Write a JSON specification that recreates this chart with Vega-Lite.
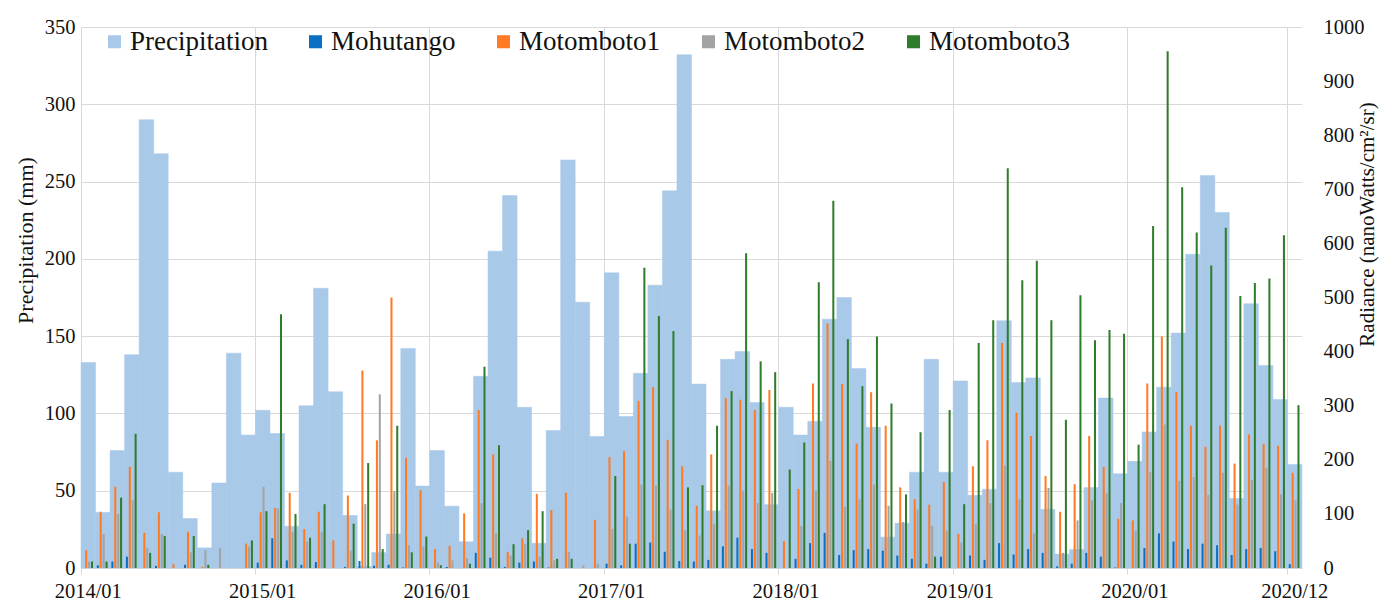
{
  "$schema": "https://vega.github.io/schema/vega-lite/v6.json",
  "width": 1221,
  "height": 541,
  "autosize": "none",
  "padding": {"left": 81, "top": 27, "right": 87, "bottom": 36},
  "background": "white",
  "config": {
    "view": {"stroke": null},
    "font": "Liberation Serif",
    "axis": {"labelFont": "Liberation Serif", "titleFont": "Liberation Serif"},
    "legend": {"labelFont": "Liberation Serif", "titleFont": "Liberation Serif"}
  },
  "data": {"values": [
    {"m":"2014/01","Precipitation":133,"Mohutango":0,"Motomboto1":33,"Motomboto2":12,"Motomboto3":12},
    {"m":"2014/02","Precipitation":36,"Mohutango":5,"Motomboto1":104,"Motomboto2":63,"Motomboto3":12},
    {"m":"2014/03","Precipitation":76,"Mohutango":12,"Motomboto1":150,"Motomboto2":100,"Motomboto3":130},
    {"m":"2014/04","Precipitation":138,"Mohutango":21,"Motomboto1":187,"Motomboto2":125,"Motomboto3":248},
    {"m":"2014/05","Precipitation":290,"Mohutango":0,"Motomboto1":65,"Motomboto2":37,"Motomboto3":28},
    {"m":"2014/06","Precipitation":268,"Mohutango":4,"Motomboto1":103,"Motomboto2":63,"Motomboto3":59},
    {"m":"2014/07","Precipitation":62,"Mohutango":0,"Motomboto1":7,"Motomboto2":0,"Motomboto3":0},
    {"m":"2014/08","Precipitation":32,"Mohutango":6,"Motomboto1":67,"Motomboto2":29,"Motomboto3":59},
    {"m":"2014/09","Precipitation":13,"Mohutango":0,"Motomboto1":2,"Motomboto2":33,"Motomboto3":6},
    {"m":"2014/10","Precipitation":55,"Mohutango":0,"Motomboto1":0,"Motomboto2":37,"Motomboto3":0},
    {"m":"2014/11","Precipitation":139,"Mohutango":0,"Motomboto1":0,"Motomboto2":0,"Motomboto3":0},
    {"m":"2014/12","Precipitation":86,"Mohutango":0,"Motomboto1":45,"Motomboto2":40,"Motomboto3":51},
    {"m":"2015/01","Precipitation":102,"Mohutango":10,"Motomboto1":103,"Motomboto2":150,"Motomboto3":105},
    {"m":"2015/02","Precipitation":87,"Mohutango":55,"Motomboto1":111,"Motomboto2":110,"Motomboto3":469},
    {"m":"2015/03","Precipitation":27,"Mohutango":14,"Motomboto1":139,"Motomboto2":67,"Motomboto3":100},
    {"m":"2015/04","Precipitation":105,"Mohutango":6,"Motomboto1":72,"Motomboto2":49,"Motomboto3":56},
    {"m":"2015/05","Precipitation":181,"Mohutango":11,"Motomboto1":104,"Motomboto2":67,"Motomboto3":118},
    {"m":"2015/06","Precipitation":114,"Mohutango":0,"Motomboto1":51,"Motomboto2":0,"Motomboto3":0},
    {"m":"2015/07","Precipitation":34,"Mohutango":2,"Motomboto1":134,"Motomboto2":32,"Motomboto3":82},
    {"m":"2015/08","Precipitation":1,"Mohutango":13,"Motomboto1":365,"Motomboto2":118,"Motomboto3":194},
    {"m":"2015/09","Precipitation":10,"Mohutango":4,"Motomboto1":236,"Motomboto2":321,"Motomboto3":35},
    {"m":"2015/10","Precipitation":22,"Mohutango":6,"Motomboto1":500,"Motomboto2":142,"Motomboto3":263},
    {"m":"2015/11","Precipitation":142,"Mohutango":1,"Motomboto1":204,"Motomboto2":42,"Motomboto3":29},
    {"m":"2015/12","Precipitation":53,"Mohutango":0,"Motomboto1":144,"Motomboto2":40,"Motomboto3":58},
    {"m":"2016/01","Precipitation":76,"Mohutango":0,"Motomboto1":35,"Motomboto2":10,"Motomboto3":5},
    {"m":"2016/02","Precipitation":40,"Mohutango":2,"Motomboto1":41,"Motomboto2":14,"Motomboto3":0},
    {"m":"2016/03","Precipitation":17,"Mohutango":0,"Motomboto1":101,"Motomboto2":18,"Motomboto3":8},
    {"m":"2016/04","Precipitation":124,"Mohutango":28,"Motomboto1":292,"Motomboto2":120,"Motomboto3":372},
    {"m":"2016/05","Precipitation":205,"Mohutango":19,"Motomboto1":210,"Motomboto2":64,"Motomboto3":227},
    {"m":"2016/06","Precipitation":241,"Mohutango":2,"Motomboto1":30,"Motomboto2":23,"Motomboto3":44},
    {"m":"2016/07","Precipitation":104,"Mohutango":10,"Motomboto1":55,"Motomboto2":44,"Motomboto3":70},
    {"m":"2016/08","Precipitation":16,"Mohutango":12,"Motomboto1":137,"Motomboto2":21,"Motomboto3":105},
    {"m":"2016/09","Precipitation":89,"Mohutango":1,"Motomboto1":107,"Motomboto2":14,"Motomboto3":17},
    {"m":"2016/10","Precipitation":264,"Mohutango":0,"Motomboto1":139,"Motomboto2":30,"Motomboto3":17},
    {"m":"2016/11","Precipitation":172,"Mohutango":0,"Motomboto1":0,"Motomboto2":5,"Motomboto3":0},
    {"m":"2016/12","Precipitation":85,"Mohutango":0,"Motomboto1":89,"Motomboto2":8,"Motomboto3":0},
    {"m":"2017/01","Precipitation":191,"Mohutango":8,"Motomboto1":205,"Motomboto2":72,"Motomboto3":170},
    {"m":"2017/02","Precipitation":98,"Mohutango":5,"Motomboto1":216,"Motomboto2":95,"Motomboto3":45},
    {"m":"2017/03","Precipitation":126,"Mohutango":45,"Motomboto1":309,"Motomboto2":154,"Motomboto3":555},
    {"m":"2017/04","Precipitation":183,"Mohutango":47,"Motomboto1":334,"Motomboto2":152,"Motomboto3":466},
    {"m":"2017/05","Precipitation":244,"Mohutango":30,"Motomboto1":237,"Motomboto2":108,"Motomboto3":438},
    {"m":"2017/06","Precipitation":332,"Mohutango":13,"Motomboto1":188,"Motomboto2":70,"Motomboto3":149},
    {"m":"2017/07","Precipitation":119,"Mohutango":12,"Motomboto1":115,"Motomboto2":60,"Motomboto3":153},
    {"m":"2017/08","Precipitation":37,"Mohutango":15,"Motomboto1":210,"Motomboto2":81,"Motomboto3":263},
    {"m":"2017/09","Precipitation":135,"Mohutango":40,"Motomboto1":314,"Motomboto2":152,"Motomboto3":327},
    {"m":"2017/10","Precipitation":140,"Mohutango":56,"Motomboto1":311,"Motomboto2":143,"Motomboto3":582},
    {"m":"2017/11","Precipitation":107,"Mohutango":35,"Motomboto1":292,"Motomboto2":120,"Motomboto3":382},
    {"m":"2017/12","Precipitation":41,"Mohutango":28,"Motomboto1":329,"Motomboto2":139,"Motomboto3":362},
    {"m":"2018/01","Precipitation":104,"Mohutango":0,"Motomboto1":50,"Motomboto2":0,"Motomboto3":182},
    {"m":"2018/02","Precipitation":86,"Mohutango":17,"Motomboto1":146,"Motomboto2":78,"Motomboto3":232},
    {"m":"2018/03","Precipitation":95,"Mohutango":46,"Motomboto1":341,"Motomboto2":143,"Motomboto3":528},
    {"m":"2018/04","Precipitation":161,"Mohutango":65,"Motomboto1":452,"Motomboto2":198,"Motomboto3":679},
    {"m":"2018/05","Precipitation":175,"Mohutango":24,"Motomboto1":340,"Motomboto2":113,"Motomboto3":423},
    {"m":"2018/06","Precipitation":129,"Mohutango":33,"Motomboto1":230,"Motomboto2":127,"Motomboto3":336},
    {"m":"2018/07","Precipitation":91,"Mohutango":35,"Motomboto1":325,"Motomboto2":154,"Motomboto3":428},
    {"m":"2018/08","Precipitation":20,"Mohutango":32,"Motomboto1":263,"Motomboto2":115,"Motomboto3":304},
    {"m":"2018/09","Precipitation":29,"Mohutango":23,"Motomboto1":149,"Motomboto2":85,"Motomboto3":136},
    {"m":"2018/10","Precipitation":62,"Mohutango":17,"Motomboto1":127,"Motomboto2":108,"Motomboto3":251},
    {"m":"2018/11","Precipitation":135,"Mohutango":8,"Motomboto1":117,"Motomboto2":78,"Motomboto3":21},
    {"m":"2018/12","Precipitation":62,"Mohutango":21,"Motomboto1":159,"Motomboto2":69,"Motomboto3":292},
    {"m":"2019/01","Precipitation":121,"Mohutango":0,"Motomboto1":63,"Motomboto2":47,"Motomboto3":118},
    {"m":"2019/02","Precipitation":47,"Mohutango":23,"Motomboto1":188,"Motomboto2":81,"Motomboto3":416},
    {"m":"2019/03","Precipitation":51,"Mohutango":15,"Motomboto1":236,"Motomboto2":120,"Motomboto3":458},
    {"m":"2019/04","Precipitation":160,"Mohutango":46,"Motomboto1":416,"Motomboto2":189,"Motomboto3":739},
    {"m":"2019/05","Precipitation":120,"Mohutango":25,"Motomboto1":287,"Motomboto2":127,"Motomboto3":532},
    {"m":"2019/06","Precipitation":123,"Mohutango":35,"Motomboto1":244,"Motomboto2":64,"Motomboto3":568},
    {"m":"2019/07","Precipitation":38,"Mohutango":28,"Motomboto1":170,"Motomboto2":148,"Motomboto3":458},
    {"m":"2019/08","Precipitation":9,"Mohutango":3,"Motomboto1":104,"Motomboto2":28,"Motomboto3":274},
    {"m":"2019/09","Precipitation":12,"Mohutango":8,"Motomboto1":155,"Motomboto2":88,"Motomboto3":504},
    {"m":"2019/10","Precipitation":52,"Mohutango":28,"Motomboto1":244,"Motomboto2":125,"Motomboto3":421},
    {"m":"2019/11","Precipitation":110,"Mohutango":21,"Motomboto1":187,"Motomboto2":138,"Motomboto3":440},
    {"m":"2019/12","Precipitation":61,"Mohutango":1,"Motomboto1":91,"Motomboto2":120,"Motomboto3":433},
    {"m":"2020/01","Precipitation":69,"Mohutango":0,"Motomboto1":88,"Motomboto2":69,"Motomboto3":228},
    {"m":"2020/02","Precipitation":88,"Mohutango":37,"Motomboto1":341,"Motomboto2":177,"Motomboto3":632},
    {"m":"2020/03","Precipitation":117,"Mohutango":64,"Motomboto1":428,"Motomboto2":265,"Motomboto3":955},
    {"m":"2020/04","Precipitation":152,"Mohutango":49,"Motomboto1":325,"Motomboto2":161,"Motomboto3":704},
    {"m":"2020/05","Precipitation":203,"Mohutango":35,"Motomboto1":263,"Motomboto2":168,"Motomboto3":620},
    {"m":"2020/06","Precipitation":254,"Mohutango":45,"Motomboto1":224,"Motomboto2":135,"Motomboto3":559},
    {"m":"2020/07","Precipitation":230,"Mohutango":42,"Motomboto1":263,"Motomboto2":176,"Motomboto3":629},
    {"m":"2020/08","Precipitation":45,"Mohutango":24,"Motomboto1":193,"Motomboto2":117,"Motomboto3":503},
    {"m":"2020/09","Precipitation":171,"Mohutango":35,"Motomboto1":247,"Motomboto2":163,"Motomboto3":527},
    {"m":"2020/10","Precipitation":131,"Mohutango":37,"Motomboto1":229,"Motomboto2":185,"Motomboto3":535},
    {"m":"2020/11","Precipitation":109,"Mohutango":31,"Motomboto1":226,"Motomboto2":136,"Motomboto3":615},
    {"m":"2020/12","Precipitation":67,"Mohutango":7,"Motomboto1":176,"Motomboto2":125,"Motomboto3":301}
  ]},
  "layer": [
    {
      "mark": {"type": "bar", "stroke": "#a9c9e9", "strokeWidth": 0.5},
      "encoding": {
        "x": {
          "field": "m", "type": "ordinal", "sort": null,
          "scale": {"paddingInner": 0, "paddingOuter": 0},
          "axis": {
            "title": null,
            "values": ["2014/01","2015/01","2016/01","2017/01","2018/01","2019/01","2020/01","2020/12"],
            "bandPosition": 0,
            "grid": true, "gridColor": "#d9d9d9", "gridWidth": 1,
            "domainColor": "#d9d9d9", "tickColor": "#d9d9d9", "tickSize": 6,
            "labelAngle": 0, "labelFont": "Liberation Serif", "labelFontSize": 20.5, "labelColor": "#111111",
            "labelPadding": 7, "labelOverlap": false, "labelBound": false, "labelFlush": false,
            "encoding": {
              "labels": {"update": {
                "dx": {"signal": "datum.value === '2020/12' ? bandwidth('x') : 0"}
              }},
              "ticks": {"update": {"x": {"scale": "x", "field": "value", "offset": {"signal": "datum.value === '2020/12' ? bandwidth('x') : 0"}}}},
              "grid": {"update": {"x": {"scale": "x", "field": "value", "offset": {"signal": "datum.value === '2020/12' ? bandwidth('x') : 0"}}}}
            }
          }
        },
        "y": {
          "field": "Precipitation", "type": "quantitative",
          "scale": {"domain": [0, 350], "nice": false},
          "axis": {
            "values": [0, 50, 100, 150, 200, 250, 300, 350],
            "grid": true, "gridColor": "#d9d9d9", "domain": false, "ticks": false,
            "labelFont": "Liberation Serif", "labelFontSize": 20.5, "labelColor": "#111111", "labelPadding": 6,
            "title": "Precipitation (mm)", "titleFont": "Liberation Serif", "titleFontSize": 22, "titleFontWeight": "normal",
            "titleColor": "#111111", "titleAngle": 270, "titleX": -56, "titleY": 213,
            "titleAlign": "center", "titleBaseline": "middle"
          }
        },
        "color": {
          "datum": "Precipitation", "type": "nominal", "title": null,
          "scale": {
            "domain": ["Precipitation", "Mohutango", "Motomboto1", "Motomboto2", "Motomboto3"],
            "range": ["#a9c9e9", "#0a70c4", "#ff7a22", "#a3a3a3", "#2f7d2a"]
          },
          "legend": {
            "orient": "none", "legendX": 20, "legendY": 1, "direction": "horizontal",
            "title": null, "symbolType": "square", "symbolSize": 170, "symbolStrokeWidth": 0,
            "labelFont": "Liberation Serif", "labelFontSize": 27, "labelColor": "#111111", "labelOffset": 2,
            "columnPadding": 34, "padding": 0, "labelLimit": 400
          }
        }
      }
    },
    {
      "transform": [{"fold": ["Mohutango", "Motomboto1", "Motomboto2", "Motomboto3"], "as": ["key", "value"]}],
      "mark": {"type": "bar"},
      "encoding": {
        "x": {"field": "m", "type": "ordinal", "sort": null},
        "xOffset": {
          "field": "key", "type": "nominal",
          "scale": {"domain": ["Mohutango", "Motomboto1", "Motomboto2", "Motomboto3"], "paddingInner": 0.3, "paddingOuter": 0.657, "align": 0.34}
        },
        "y": {
          "field": "value", "type": "quantitative",
          "scale": {"domain": [0, 1000], "nice": false},
          "axis": {
            "orient": "right", "format": "d",
            "values": [0, 100, 200, 300, 400, 500, 600, 700, 800, 900, 1000],
            "grid": false, "domain": false, "ticks": false,
            "labelFont": "Liberation Serif", "labelFontSize": 20.5, "labelColor": "#111111", "labelPadding": 21,
            "title": "Radiance (nanoWatts/cm²/sr)", "titleFont": "Liberation Serif", "titleFontSize": 21, "titleFontWeight": "normal",
            "titleColor": "#111111", "titleAngle": 270, "titleX": 65, "titleY": 197,
            "titleAlign": "center", "titleBaseline": "middle"
          }
        },
        "color": {"field": "key", "type": "nominal", "title": null}
      }
    }
  ],
  "resolve": {"scale": {"y": "independent"}}
}
